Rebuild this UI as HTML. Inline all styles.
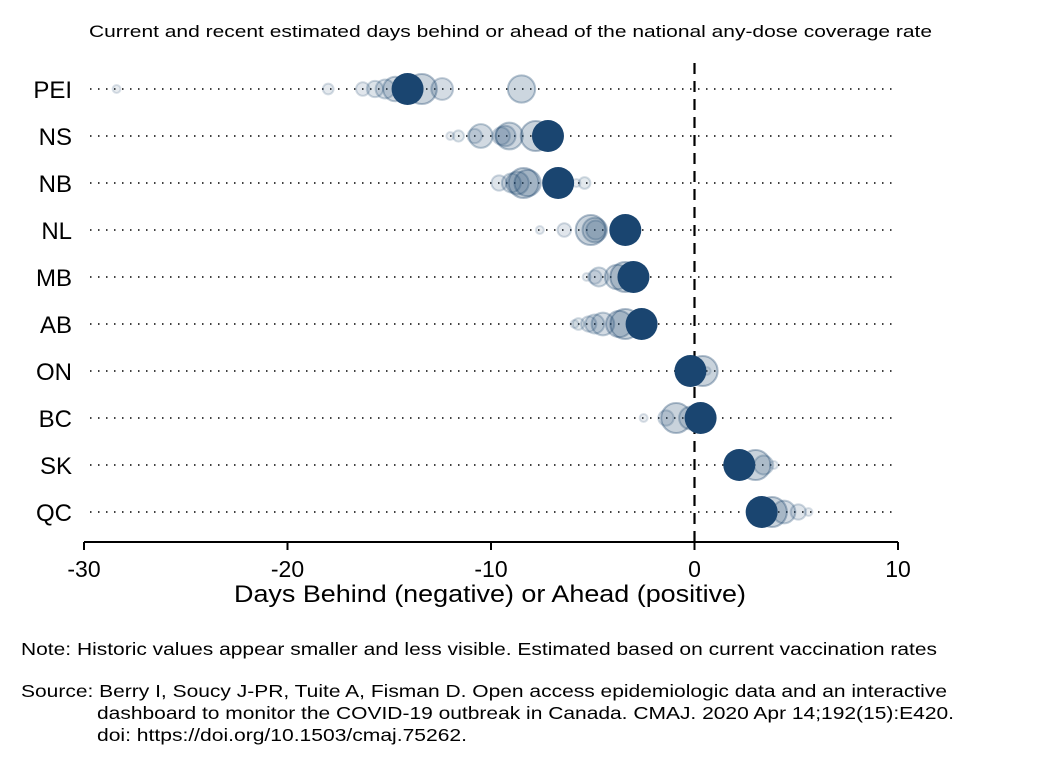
<!DOCTYPE html>
<html><head><meta charset="utf-8"><style>
body{margin:0;background:#fff;font-family:"Liberation Sans",Arial,sans-serif;}
svg text{font-family:"Liberation Sans",Arial,sans-serif;fill:#000}
</style></head><body>
<svg id="c" width="1051" height="765">
<rect width="1051" height="765" fill="#fff"/>
<text x="89" y="37" font-size="17" textLength="843" lengthAdjust="spacingAndGlyphs">Current and recent estimated days behind or ahead of the national any-dose coverage rate</text>
<g id="grid"></g><g id="marks"></g><g id="axes"></g>
<text x="234" y="602" font-size="24" textLength="512" lengthAdjust="spacingAndGlyphs">Days Behind (negative) or Ahead (positive)</text>
<text x="21" y="655" font-size="17.5" textLength="916" lengthAdjust="spacingAndGlyphs">Note: Historic values appear smaller and less visible. Estimated based on current vaccination rates</text>
<text x="21" y="697" font-size="17.5" textLength="926" lengthAdjust="spacingAndGlyphs">Source: Berry I, Soucy J-PR, Tuite A, Fisman D. Open access epidemiologic data and an interactive</text>
<text x="97" y="719" font-size="17.5" textLength="857" lengthAdjust="spacingAndGlyphs">dashboard to monitor the COVID-19 outbreak in Canada. CMAJ. 2020 Apr 14;192(15):E420.</text>
<text x="97" y="741" font-size="17.5" textLength="370" lengthAdjust="spacingAndGlyphs">doi: https://doi.org/10.1503/cmaj.75262.</text>
</svg>
<script>
const provinces=["PEI","NS","NB","NL","MB","AB","ON","BC","SK","QC"];
const currentVals=[-14.1,-7.2,-6.7,-3.4,-3.0,-2.6,-0.2,0.3,2.2,3.3];
const histPEI=[-28.4,-18.0,-16.3,-15.7,-15.2,-12.4,-14.7,-8.5,-13.4];
const histNS=[-12.0,-11.6,-10.8,-9.5,-9.3,-10.5,-9.1,-7.8];
const histNB=[-5.8,-5.4,-9.6,-9.0,-8.7,-8.2,-8.4];
const histNL=[-7.6,-6.4,-4.85,-4.9,-5.1];
const histMB=[-5.3,-4.9,-4.7,-3.8,-3.4];
const histAB=[-5.9,-5.7,-5.2,-4.9,-4.5,-3.7,-3.4];
const histON=[0.6,0.4];
const histBC=[-2.5,-1.4,-0.2,-0.9];
const histSK=[3.9,3.4,3.0];
const histQC=[5.6,5.1,4.4,3.8];
const history=[histPEI,histNS,histNB,histNL,histMB,histAB,histON,histBC,histSK,histQC];
const xTicks=[-30,-20,-10,0,10];
const NS="http://www.w3.org/2000/svg";
const X0=84,X1=898,xmin=-30,xmax=10;
const xs=v=>X0+(v-xmin)/(xmax-xmin)*(X1-X0);
const ys=i=>89+i*47.0;
function mk(t,a,p){const e=document.createElementNS(NS,t);for(const k in a)e.setAttribute(k,a[k]);p.appendChild(e);return e;}
const grid=document.getElementById('grid'),marks=document.getElementById('marks'),axes=document.getElementById('axes');
provinces.forEach((p,i)=>{
  const l=mk('line',{x1:90,x2:X1,y1:ys(i),y2:ys(i),stroke:'#000','stroke-width':1.5,'stroke-dasharray':'1.5 6.5'},grid);
  
  
  const t=mk('text',{x:72,y:ys(i)+9,'font-size':24,'text-anchor':'end'},axes);t.textContent=p;
  
  
});
const vz=mk('line',{x1:xs(0),x2:xs(0),y1:63,y2:542,stroke:'#000','stroke-width':2.2,'stroke-dasharray':'11 7'},grid);


provinces.forEach((p,i)=>{
  const h=history[i],n=h.length;
  h.forEach((v,j)=>{
    const f=n>1?j/(n-1):1;
    const c=mk('circle',{cx:xs(v),cy:ys(i),r:4+f*11,fill:'rgba(28,70,110,'+(0.1+f*0.14)+')',stroke:'rgba(28,70,110,'+(0.15+f*0.2)+')','stroke-width':2},marks);
    
    
  });
  const c=mk('circle',{cx:xs(currentVals[i]),cy:ys(i),r:16,fill:'#1a4570'},marks);
  
  
});
const ax=mk('line',{x1:X0,x2:X1,y1:542,y2:542,stroke:'#000','stroke-width':2},axes);


xTicks.forEach(v=>{
  mk('line',{x1:xs(v),x2:xs(v),y1:542,y2:550,stroke:'#000','stroke-width':2},axes);
  const t=mk('text',{x:xs(v),y:577,'font-size':23,'text-anchor':'middle'},axes);t.textContent=v;
  
  
});
</script>
</body></html>
